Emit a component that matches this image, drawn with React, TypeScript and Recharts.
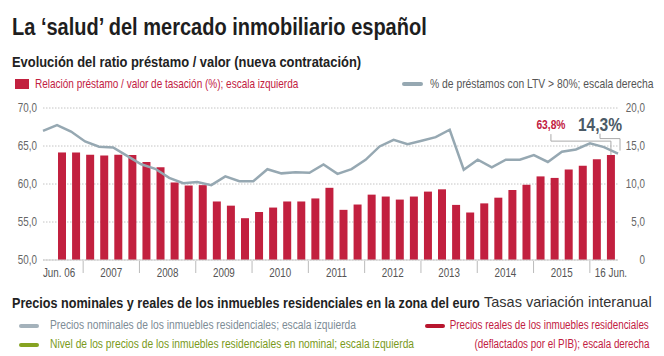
import React from "react";
import {
  Bar,
  CartesianGrid,
  ComposedChart,
  LabelList,
  Line,
  XAxis,
  YAxis,
} from "recharts";

// quarters shown by the bars (year-quarter)
const quarters = [
  "2006-3", "2006-4",
  "2007-1", "2007-2", "2007-3", "2007-4",
  "2008-1", "2008-2", "2008-3", "2008-4",
  "2009-1", "2009-2", "2009-3", "2009-4",
  "2010-1", "2010-2", "2010-3", "2010-4",
  "2011-1", "2011-2", "2011-3", "2011-4",
  "2012-1", "2012-2", "2012-3", "2012-4",
  "2013-1", "2013-2", "2013-3", "2013-4",
  "2014-1", "2014-2", "2014-3", "2014-4",
  "2015-1", "2015-2", "2015-3", "2015-4",
  "2016-1", "2016-2",
];

// relación préstamo / valor de tasación (%), escala izquierda
const loanToValue = [
  64.15, 64.15, 63.85, 63.75, 63.85, 63.8, 62.9, 62.2, 60.2, 59.8,
  59.85, 57.7, 57.15, 55.5, 56.3, 56.9, 57.7, 57.7, 58.1, 59.5,
  56.6, 57.3, 58.6, 58.35, 57.95, 58.35, 59.0, 59.3, 57.25, 56.25,
  57.45, 58.2, 59.2, 59.9, 61.0, 60.8, 61.9, 62.4, 63.25, 63.8,
];

// % de préstamos con LTV > 80%, escala derecha (one point more on each end)
const ltvOver80 = [
  17.0, 17.75, 16.9, 15.6, 14.9, 14.8, 13.7, 12.6, 12.0, 10.8,
  10.1, 10.25, 9.85, 11.0, 10.37, 10.37, 11.95, 11.4, 11.56, 11.47,
  12.57, 11.34, 11.96, 13.18, 14.94, 15.82, 15.25, 15.69, 16.17, 17.14,
  11.87, 13.2, 12.2, 13.2, 13.2, 13.8, 12.9, 14.25, 14.55, 15.35,
  14.85, 14.0,
];

const leftTicks = [50, 55, 60, 65, 70];
const rightTicks = [0, 5, 10, 15, 20];
const yearLabels = ["2007", "2008", "2009", "2010", "2011", "2012", "2013", "2014", "2015"];
const firstLabel = "Jun. 06";
const lastLabel = "16 Jun.";
const lastRatioNote = "63,8%";
const lastLtvNote = "14,3%";

// no narrow face installed: Arial-metric font squeezed horizontally
const FONT = "'Liberation Sans', Arial, sans-serif";
const NARROW = 0.82;
const RED = "#c2203f";
const LINE = "#96a8b2";
const GRID = "#c4c4c4";

const CHART_W = 664;
const CHART_H = 290;
const LEFT_W = 43;
const RIGHT_W = 46;
const PAD_L = 12;
const band = (CHART_W - LEFT_W - RIGHT_W - PAD_L) / quarters.length;

const barData = quarters.map((q, i) => ({ q, ratio: loanToValue[i] }));
const lineData = ltvOver80.map((v, k) => ({ k, v }));

const comma = (v: number) => (v === 0 ? "0" : v.toFixed(1).replace(".", ","));

function SText(props: {
  x: number;
  y: number;
  anchor?: "start" | "middle" | "end";
  size?: number;
  fill?: string;
  bold?: boolean;
  children: React.ReactNode;
}) {
  const { x, y, anchor = "middle", size = 12, fill = "#666", bold, children } = props;
  return (
    <text
      transform={`translate(${x},${y}) scale(${NARROW},1)`}
      textAnchor={anchor}
      fontFamily={FONT}
      fontSize={size}
      fontWeight={bold ? "bold" : "normal"}
      fill={fill}
    >
      {children}
    </text>
  );
}

function XTick(props: any) {
  const { x, y, payload, index } = props;
  const [yr, q] = String(payload.value).split("-");
  let label = null;
  if (index === 0) {
    label = <SText x={x - 3} y={y + 17} fill="#555">{firstLabel}</SText>;
  } else if (index === quarters.length - 1) {
    label = <SText x={x} y={y + 17} fill="#555">{lastLabel}</SText>;
  } else if (q === "2" && yearLabels.includes(yr)) {
    label = <SText x={x + band / 2} y={y + 17} fill="#555">{yr}</SText>;
  }
  return (
    <g>
      {q === "1" && (
        <line x1={x - band / 2} x2={x - band / 2} y1={y + 1} y2={y + 13} stroke="#bbb" />
      )}
      {label}
    </g>
  );
}

function LeftTick(props: any) {
  const { x, y, payload } = props;
  return <SText x={x} y={y + 4} anchor="end">{comma(payload.value)}</SText>;
}

function RightTick(props: any) {
  const { x, y, payload } = props;
  return <SText x={x + 27} y={y + 4} anchor="end">{comma(payload.value)}</SText>;
}

function BarNote(props: any) {
  const { x, y, width, index } = props;
  if (index !== loanToValue.length - 1) return null;
  const cx = x + width / 2;
  const lx = cx - 60;
  return (
    <g>
      <polyline
        points={`${cx},${y} ${cx},${y - 14} ${lx},${y - 14} ${lx},${y - 21}`}
        fill="none"
        stroke="#aaa"
      />
      <SText x={lx} y={y - 26} size={12.5} bold fill={RED}>{lastRatioNote}</SText>
    </g>
  );
}

function LineNote(props: any) {
  const { x, y, index } = props;
  if (index !== ltvOver80.length - 1) return null;
  const lx = x - 18;
  return (
    <g>
      <polyline
        points={`${x + 2},${y - 3} ${x + 2},${y - 15} ${lx},${y - 15} ${lx},${y - 20}`}
        fill="none"
        stroke="#aaa"
      />
      <SText x={lx} y={y - 22.5} size={19} bold fill="#4b5a66">{lastLtvNote}</SText>
    </g>
  );
}

// absolutely placed, horizontally squeezed HTML text
function HText(props: {
  left?: number;
  right?: number;
  top: number;
  size: number;
  color: string;
  bold?: boolean;
  scale?: number;
  children: React.ReactNode;
}) {
  const { left, right, top, size, color, bold, scale = NARROW, children } = props;
  const fromRight = right !== undefined;
  return (
    <div
      style={{
        position: "absolute",
        left: fromRight ? undefined : left,
        right: fromRight ? right : undefined,
        top,
        fontSize: size,
        lineHeight: `${Math.round(size * 1.2)}px`,
        fontWeight: bold ? "bold" : "normal",
        color,
        whiteSpace: "nowrap",
        transform: `scaleX(${scale})`,
        transformOrigin: fromRight ? "right center" : "left center",
      }}
    >
      {children}
    </div>
  );
}

function Marker({ left, top, color, w = 20, h = 4, r = 2 }: any) {
  return (
    <div
      style={{
        position: "absolute",
        left,
        top,
        width: w,
        height: h,
        borderRadius: r,
        background: color,
      }}
    />
  );
}

export default function App() {
  return (
    <div
      style={{
        position: "absolute",
        left: 0,
        top: 0,
        width: 664,
        height: 356,
        background: "#fff",
        fontFamily: FONT,
        overflow: "hidden",
      }}
    >
      <HText left={12} top={13} size={23} scale={0.87} bold color="#1e1e1e">
        La ‘salud’ del mercado inmobiliario español
      </HText>
      <HText left={12} top={53} size={15} scale={0.86} bold color="#222">
        Evolución del ratio préstamo / valor (nueva contratación)
      </HText>

      <Marker left={15} top={79} w={14} h={10} r={0} color={RED} />
      <HText left={35} top={77} size={12.2} color={RED}>
        Relación préstamo / valor de tasación (%); escala izquierda
      </HText>
      <Marker left={402} top={82} w={21} h={4} color={LINE} />
      <HText left={430} top={77} size={12.6} color="#555">
        % de préstamos con LTV &gt; 80%; escala derecha
      </HText>

      <div style={{ position: "absolute", left: 0, top: 0 }}>
        <ComposedChart
          width={CHART_W}
          height={CHART_H}
          data={barData}
          margin={{ top: 108, right: 0, bottom: 0, left: 0 }}
        >
          <CartesianGrid
            yAxisId="left"
            xAxisId="cat"
            vertical={false}
            stroke={GRID}
            strokeDasharray="1.5 1.5"
          />
          <XAxis
            xAxisId="cat"
            dataKey="q"
            type="category"
            interval={0}
            padding={{ left: PAD_L, right: 0 }}
            tickLine={false}
            tickSize={0}
            tickMargin={0}
            axisLine={{ stroke: "#ccc" }}
            tick={<XTick />}
            height={CHART_H - 108 - 152}
          />
          <XAxis xAxisId="idx" dataKey="k" type="number" domain={[0, ltvOver80.length - 1]} hide />
          <YAxis
            yAxisId="left"
            width={LEFT_W}
            domain={[50, 70]}
            ticks={leftTicks}
            axisLine={false}
            tickLine={false}
            tickSize={0}
            tickMargin={6}
            tick={<LeftTick />}
          />
          <YAxis
            yAxisId="right"
            orientation="right"
            width={RIGHT_W}
            domain={[0, 20]}
            ticks={rightTicks}
            axisLine={false}
            tickLine={false}
            tickSize={0}
            tickMargin={0}
            tick={<RightTick />}
          />
          <Bar
            xAxisId="cat"
            yAxisId="left"
            dataKey="ratio"
            fill={RED}
            barSize={8}
            isAnimationActive={false}
          >
            <LabelList dataKey="ratio" content={<BarNote />} />
          </Bar>
          <Line
            xAxisId="idx"
            yAxisId="right"
            data={lineData}
            dataKey="v"
            stroke={LINE}
            strokeWidth={2.5}
            dot={false}
            activeDot={false}
            isAnimationActive={false}
          >
            <LabelList dataKey="v" content={<LineNote />} />
          </Line>
        </ComposedChart>
      </div>

      <HText left={12} top={294} size={15} scale={0.84} bold color="#222">
        Precios nominales y reales de los inmuebles residenciales en la zona del euro
      </HText>
      <HText left={484} top={294} size={14.5} scale={1} color="#333">
        Tasas variación interanual
      </HText>
      <Marker left={19} top={324} color="#a4b2bb" />
      <HText left={50} top={318} size={12.5} color="#7d8c96">
        Precios nominales de los inmuebles residenciales; escala izquierda
      </HText>
      <Marker left={19} top={343} color="#86a321" />
      <HText left={50} top={337} size={12.5} color="#7a9a1a">
        Nivel de los precios de los inmuebles residenciales en nominal; escala izquierda
      </HText>
      <Marker left={425} top={324} color="#b8162e" />
      <HText right={15} top={318} size={12} color={RED}>
        Precios reales de los inmuebles residenciales
      </HText>
      <HText right={15} top={337} size={12} color={RED}>
        (deflactados por el PIB); escala derecha
      </HText>
    </div>
  );
}
